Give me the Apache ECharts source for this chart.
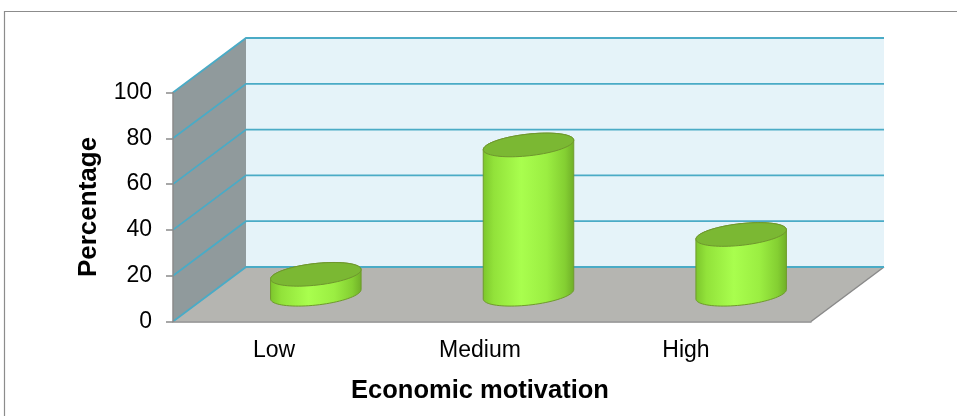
<!DOCTYPE html>
<html>
<head>
<meta charset="utf-8">
<script src="https://cdn.jsdelivr.net/npm/echarts@6/dist/echarts.min.js"></script>
<style>
  html, body { margin: 0; padding: 0; background: #ffffff; }
  #chart { width: 957px; height: 416px; }
</style>
</head>
<body>
<div id="chart"></div>
<script>
// Share of respondents by level of economic motivation
const categories = ['Low', 'Medium', 'High'];
const percentages = [8.7, 65.2, 26.1];
const yTicks = [0, 20, 40, 60, 80, 100];

// oblique depth of the 3-D box (pixels)
const DEPTH_X = 73;
const DEPTH_Y = -54.5;
const FONT = 'Liberation Sans, Arial, sans-serif';

function ellipseArc(cx, cy, a, b, th, t0, t1, n) {
  const pts = [];
  const c = Math.cos(th), s = Math.sin(th);
  for (let i = 0; i <= n; i++) {
    const t = t0 + (t1 - t0) * i / n;
    const ex = a * Math.cos(t), ey = b * Math.sin(t);
    pts.push([cx + ex * c - ey * s, cy + ex * s + ey * c]);
  }
  return pts;
}

function renderBox(params, api) {
  const cs = params.coordSys;
  const x0 = cs.x, x1 = cs.x + cs.width;
  const yAt = v => api.coord([0, v])[1];
  const yb = yAt(0), yt = yAt(yTicks[yTicks.length - 1]);
  const children = [];
  // left wall
  children.push({
    type: 'polygon',
    shape: { points: [[x0, yb], [x0 + DEPTH_X, yb + DEPTH_Y], [x0 + DEPTH_X, yt + DEPTH_Y], [x0, yt]] },
    style: { fill: '#909a9c' }
  });
  // back wall
  children.push({
    type: 'rect',
    shape: { x: x0 + DEPTH_X, y: yt + DEPTH_Y, width: x1 - x0, height: yb - yt },
    style: { fill: '#e5f3f9' }
  });
  // floor
  children.push({
    type: 'polygon',
    shape: { points: [[x0, yb], [x1, yb], [x1 + DEPTH_X, yb + DEPTH_Y], [x0 + DEPTH_X, yb + DEPTH_Y]] },
    style: { fill: '#b5b5b1' }
  });
  // floor right edge
  children.push({
    type: 'line',
    shape: { x1: x1, y1: yb, x2: x1 + DEPTH_X, y2: yb + DEPTH_Y },
    style: { stroke: '#8a8a8a', lineWidth: 1.5 }
  });
  // gridlines on left and back walls
  yTicks.forEach(v => {
    const y = yAt(v);
    children.push({
      type: 'polyline',
      shape: { points: [[x0, y], [x0 + DEPTH_X, y + DEPTH_Y], [x1 + DEPTH_X, y + DEPTH_Y]] },
      style: { stroke: '#4aabc6', lineWidth: 1.8, fill: null }
    });
  });
  return { type: 'group', children: children };
}

function renderCylinder(params, api) {
  const idx = api.value(0);
  const val = api.value(1);
  const base = api.coord([idx, 0]);
  const top = api.coord([idx, val]);
  const cx = base[0] + DEPTH_X / 2;
  const by = base[1] + DEPTH_Y / 2;
  const ty = top[1] + DEPTH_Y / 2;
  const a = api.size([1, 0])[0] * 0.214;
  const b = 10.8;
  const th = -0.11;
  const phi = Math.atan2(b * Math.sin(th), a * Math.cos(th));
  const upper = ellipseArc(cx, ty, a, b, th, Math.PI - phi, 2 * Math.PI - phi, 40);
  const lower = ellipseArc(cx, by, a, b, th, -phi, Math.PI - phi, 40);
  const body = upper.concat(lower);
  const lid = ellipseArc(cx, ty, a, b, th, 0, 2 * Math.PI, 80);
  return {
    type: 'group',
    children: [
      {
        type: 'polygon',
        shape: { points: body },
        style: {
          fill: new echarts.graphic.LinearGradient(0, 0, 1, 0, [
            { offset: 0, color: '#7cc52c' },
            { offset: 0.12, color: '#92e23a' },
            { offset: 0.42, color: '#a9fe4e' },
            { offset: 0.7, color: '#9bee42' },
            { offset: 0.9, color: '#84cf32' },
            { offset: 1, color: '#6fae28' }
          ]),
          stroke: '#6f9b2c',
          lineWidth: 1
        }
      },
      {
        type: 'polygon',
        shape: { points: lid },
        style: { fill: '#7bb833', stroke: '#6f962e', lineWidth: 1 }
      }
    ]
  };
}

const chart = echarts.init(document.getElementById('chart'), null, { renderer: 'canvas' });

chart.setOption({
  animation: false,
  backgroundColor: '#ffffff',
  graphic: [{
    type: 'polyline',
    shape: { points: [[4.5, 416], [4.5, 11.5], [957, 11.5]] },
    style: { stroke: '#8c8c8c', lineWidth: 1.2, fill: null },
    z: 0
  }],
  grid: [
    { left: 173, top: 92.5, width: 638, height: 229 },
    { left: 171, top: 92.5, width: 618, height: 229 }
  ],
  xAxis: [
    {
      type: 'category', gridIndex: 0, data: categories, z: 5,
      axisLine: { show: true, lineStyle: { color: '#8a8a8a', width: 1.5 } },
      axisTick: { show: false },
      axisLabel: { show: false },
      splitLine: { show: false }
    },
    {
      type: 'category', gridIndex: 1, data: categories,
      axisLine: { show: false },
      axisTick: { show: false },
      axisLabel: { color: '#000', fontFamily: FONT, fontSize: 23, margin: 18 },
      name: 'Economic motivation',
      nameLocation: 'middle',
      nameGap: 56,
      nameTextStyle: { color: '#000', fontFamily: FONT, fontSize: 25.5, fontWeight: 'bold' }
    }
  ],
  yAxis: [
    {
      type: 'value', gridIndex: 0, z: 5,
      min: yTicks[0], max: yTicks[yTicks.length - 1], interval: yTicks[1] - yTicks[0],
      axisLine: { show: true, lineStyle: { color: '#8a8a8a', width: 1.5 } },
      axisTick: { show: true, inside: false, length: 7, lineStyle: { color: '#8a8a8a', width: 1.5 } },
      axisLabel: { color: '#000', fontFamily: FONT, fontSize: 23, margin: 21 },
      splitLine: { show: false },
      name: 'Percentage',
      nameLocation: 'middle',
      nameRotate: 90,
      nameGap: 71,
      nameTextStyle: { color: '#000', fontFamily: FONT, fontSize: 26, fontWeight: 'bold' }
    },
    {
      type: 'value', gridIndex: 1, min: 0, max: 100, show: false
    }
  ],
  series: [
    {
      type: 'custom', xAxisIndex: 0, yAxisIndex: 0, z: 1, silent: true,
      renderItem: renderBox,
      data: [[0, 0]]
    },
    {
      type: 'custom', xAxisIndex: 0, yAxisIndex: 0, z: 3,
      renderItem: renderCylinder,
      data: percentages.map((v, i) => [i, v])
    }
  ]
});
</script>
</body>
</html>
